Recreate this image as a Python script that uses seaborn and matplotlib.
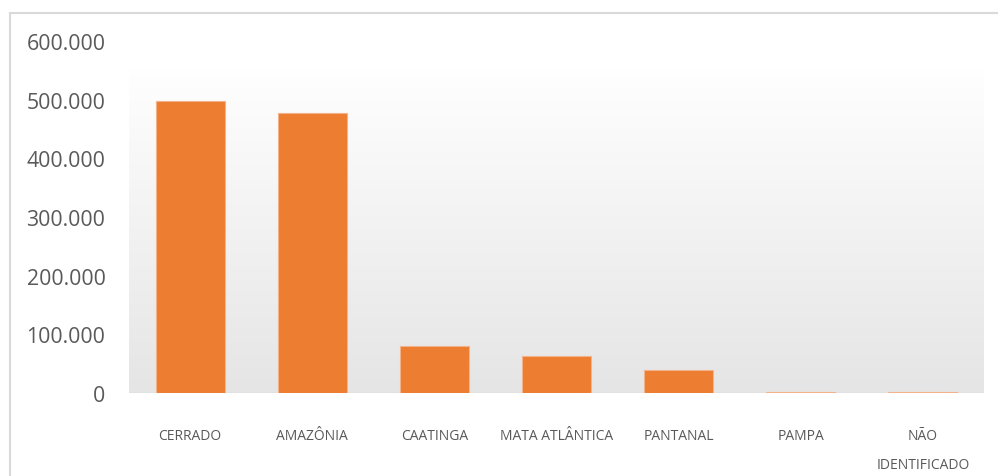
import numpy as np
import pandas as pd
import matplotlib
matplotlib.use("Agg")
import matplotlib.pyplot as plt
from matplotlib.patches import Rectangle
import seaborn as sns

# Área por bioma
biomas = ["CERRADO", "AMAZÔNIA", "CAATINGA", "MATA ATLÂNTICA", "PANTANAL", "PAMPA", "NÃO\nIDENTIFICADO"]
areas = [498500, 477000, 80500, 62500, 39500, 1500, 1200]
y_ticks = [0, 100000, 200000, 300000, 400000, 500000, 600000]

df = pd.DataFrame({"bioma": biomas, "area": areas})

sns.set_theme(style="white")
plt.rcParams["font.family"] = ["Open Sans", "DejaVu Sans"]

fig = plt.figure(figsize=(9.98, 4.77), dpi=100)
ax = fig.add_axes([129 / 998, 1 - 394 / 477, (984 - 129) / 998, (394 - 42) / 477])

# Fundo em degradê (branco no topo, cinza embaixo)
grad = np.linspace(0, 1, 256).reshape(-1, 1)
top = np.array([0.998, 0.998, 0.998])
bottom = np.array([0.898, 0.898, 0.898])
img = top + (bottom - top) * grad
img = np.repeat(img[:, None, :], 2, axis=1)
ax.imshow(img, extent=(-0.5, 6.5, 0, 550000), aspect="auto", zorder=0,
          interpolation="bilinear")

sns.barplot(data=df, x="bioma", y="area", color="#ED7D31", saturation=1,
            width=0.565, edgecolor="#F3B28A", linewidth=0.8, ax=ax, zorder=2)

ax.set_xlim(-0.5, 6.5)
ax.set_ylim(0, 600000)
ax.set_yticks(y_ticks)
ax.set_yticklabels([f"{v:,}".replace(",", ".") for v in y_ticks],
                   fontsize=15.3, color="#595959")
ax.tick_params(axis="y", length=0, pad=17)
ax.tick_params(axis="x", length=0, pad=25, labelsize=10, labelcolor="#595959")
for lbl in ax.get_xticklabels():
    lbl.set_linespacing(2.3)
    lbl.set_verticalalignment("top")
ax.set_xlabel("")
ax.set_ylabel("")
for s in ax.spines.values():
    s.set_visible(False)
ax.axhline(0, color="#D9D9D9", lw=1.0, zorder=1)
ax.set_facecolor("none")

# Moldura do gráfico
fig.patches.append(Rectangle((9.5 / 998, -0.1), 1.2, 1 - 13.5 / 477 + 0.1,
                             transform=fig.transFigure, fill=False,
                             edgecolor="#D9D9D9", lw=1.5))

fig.savefig("out.png", dpi=100)
